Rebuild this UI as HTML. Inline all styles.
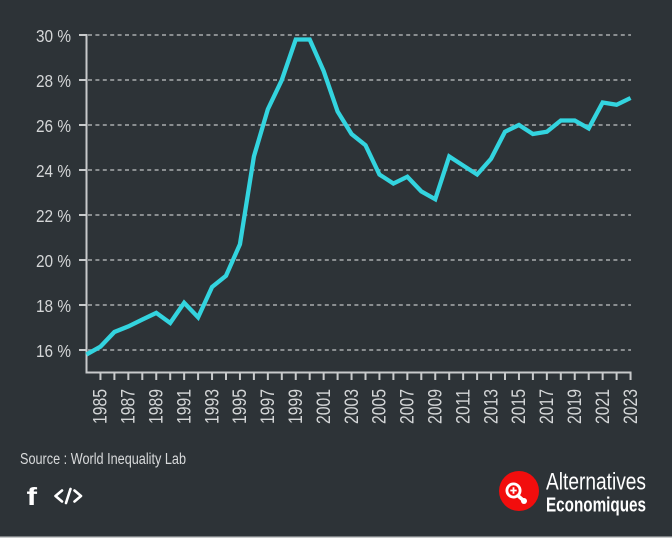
<!DOCTYPE html>
<html><head><meta charset="utf-8"><style>
html,body{margin:0;padding:0;background:#2d3337;}
svg{display:block;}
</style></head><body>
<svg width="672" height="538" viewBox="0 0 672 538" xmlns="http://www.w3.org/2000/svg" font-family="'Liberation Sans', sans-serif">
<rect x="0" y="0" width="672" height="538" fill="#2d3337"/>
<rect x="0" y="536.5" width="672" height="1.5" fill="#c9cbcc"/>
<g stroke="#a9acae" stroke-width="1.5" stroke-dasharray="4 3.4">
<line x1="88" y1="35" x2="631" y2="35"/>
<line x1="88" y1="80" x2="631" y2="80"/>
<line x1="88" y1="125" x2="631" y2="125"/>
<line x1="88" y1="170" x2="631" y2="170"/>
<line x1="88" y1="215" x2="631" y2="215"/>
<line x1="88" y1="260" x2="631" y2="260"/>
<line x1="88" y1="305" x2="631" y2="305"/>
<line x1="88" y1="350" x2="631" y2="350"/>
</g>
<g stroke="#c8cacb" stroke-width="2" fill="none">
<line x1="86.5" y1="34" x2="86.5" y2="373.5"/>
<line x1="79" y1="35" x2="86" y2="35"/>
<line x1="79" y1="80" x2="86" y2="80"/>
<line x1="79" y1="125" x2="86" y2="125"/>
<line x1="79" y1="170" x2="86" y2="170"/>
<line x1="79" y1="215" x2="86" y2="215"/>
<line x1="79" y1="260" x2="86" y2="260"/>
<line x1="79" y1="305" x2="86" y2="305"/>
<line x1="79" y1="350" x2="86" y2="350"/>
<line x1="85.5" y1="372.5" x2="631.5" y2="372.5"/>
<path d="M100.45 372.5V380 M114.4 372.5V380 M128.35 372.5V380 M142.3 372.5V380 M156.25 372.5V380 M170.2 372.5V380 M184.15 372.5V380 M198.1 372.5V380 M212.05 372.5V380 M226 372.5V380 M239.95 372.5V380 M253.9 372.5V380 M267.85 372.5V380 M281.8 372.5V380 M295.75 372.5V380 M309.7 372.5V380 M323.65 372.5V380 M337.6 372.5V380 M351.55 372.5V380 M365.5 372.5V380 M379.45 372.5V380 M393.4 372.5V380 M407.35 372.5V380 M421.3 372.5V380 M435.25 372.5V380 M449.2 372.5V380 M463.15 372.5V380 M477.1 372.5V380 M491.05 372.5V380 M505 372.5V380 M518.95 372.5V380 M532.9 372.5V380 M546.85 372.5V380 M560.8 372.5V380 M574.75 372.5V380 M588.7 372.5V380 M602.65 372.5V380 M616.6 372.5V380 M630.55 372.5V380"/>
</g>
<g fill="#d4d6d7" font-size="17.5" text-anchor="end">
<text x="71" y="42" textLength="35" lengthAdjust="spacingAndGlyphs">30 %</text>
<text x="71" y="87" textLength="35" lengthAdjust="spacingAndGlyphs">28 %</text>
<text x="71" y="132" textLength="35" lengthAdjust="spacingAndGlyphs">26 %</text>
<text x="71" y="177" textLength="35" lengthAdjust="spacingAndGlyphs">24 %</text>
<text x="71" y="222" textLength="35" lengthAdjust="spacingAndGlyphs">22 %</text>
<text x="71" y="267" textLength="35" lengthAdjust="spacingAndGlyphs">20 %</text>
<text x="71" y="312" textLength="35" lengthAdjust="spacingAndGlyphs">18 %</text>
<text x="71" y="357" textLength="35" lengthAdjust="spacingAndGlyphs">16 %</text>
</g>
<g fill="#d4d6d7" font-size="19" text-anchor="end">
<text transform="translate(106.7 389) rotate(-90)" textLength="35" lengthAdjust="spacingAndGlyphs">1985</text>
<text transform="translate(134.6 389) rotate(-90)" textLength="35" lengthAdjust="spacingAndGlyphs">1987</text>
<text transform="translate(162.5 389) rotate(-90)" textLength="35" lengthAdjust="spacingAndGlyphs">1989</text>
<text transform="translate(190.4 389) rotate(-90)" textLength="35" lengthAdjust="spacingAndGlyphs">1991</text>
<text transform="translate(218.3 389) rotate(-90)" textLength="35" lengthAdjust="spacingAndGlyphs">1993</text>
<text transform="translate(246.2 389) rotate(-90)" textLength="35" lengthAdjust="spacingAndGlyphs">1995</text>
<text transform="translate(274.1 389) rotate(-90)" textLength="35" lengthAdjust="spacingAndGlyphs">1997</text>
<text transform="translate(302.0 389) rotate(-90)" textLength="35" lengthAdjust="spacingAndGlyphs">1999</text>
<text transform="translate(329.9 389) rotate(-90)" textLength="35" lengthAdjust="spacingAndGlyphs">2001</text>
<text transform="translate(357.8 389) rotate(-90)" textLength="35" lengthAdjust="spacingAndGlyphs">2003</text>
<text transform="translate(385.7 389) rotate(-90)" textLength="35" lengthAdjust="spacingAndGlyphs">2005</text>
<text transform="translate(413.6 389) rotate(-90)" textLength="35" lengthAdjust="spacingAndGlyphs">2007</text>
<text transform="translate(441.5 389) rotate(-90)" textLength="35" lengthAdjust="spacingAndGlyphs">2009</text>
<text transform="translate(469.4 389) rotate(-90)" textLength="35" lengthAdjust="spacingAndGlyphs">2011</text>
<text transform="translate(497.3 389) rotate(-90)" textLength="35" lengthAdjust="spacingAndGlyphs">2013</text>
<text transform="translate(525.2 389) rotate(-90)" textLength="35" lengthAdjust="spacingAndGlyphs">2015</text>
<text transform="translate(553.1 389) rotate(-90)" textLength="35" lengthAdjust="spacingAndGlyphs">2017</text>
<text transform="translate(581.0 389) rotate(-90)" textLength="35" lengthAdjust="spacingAndGlyphs">2019</text>
<text transform="translate(608.9 389) rotate(-90)" textLength="35" lengthAdjust="spacingAndGlyphs">2021</text>
<text transform="translate(636.8 389) rotate(-90)" textLength="35" lengthAdjust="spacingAndGlyphs">2023</text>
</g>
<polyline fill="none" stroke="#33d4df" stroke-width="4.3" stroke-linejoin="miter" stroke-miterlimit="3" points="86.5,354.5 100.45,346.6 114.4,332 128.35,326.4 142.3,319.6 156.25,312.9 170.2,323 184.15,302.75 198.1,317.4 212.05,287 226,275.75 239.95,244.25 253.9,156.5 267.85,109.25 281.8,80 295.75,39.5 309.7,39.5 323.65,71 337.6,111.5 351.55,134 365.5,145.25 379.45,174.5 393.4,183.5 407.35,176.75 421.3,191.4 435.25,199.25 449.2,156.5 463.15,165.5 477.1,174.5 491.05,158.75 505,131.75 518.95,125 532.9,134 546.85,131.75 560.8,120.5 574.75,120.5 588.7,128.4 602.65,102.5 616.6,104.75 630.55,98"/>
<text x="20" y="464" fill="#d8dadb" font-size="15.5" textLength="166" lengthAdjust="spacingAndGlyphs">Source : World Inequality Lab</text>
<text x="26.5" y="505" fill="#ffffff" font-size="25" font-weight="bold" textLength="10.5" lengthAdjust="spacingAndGlyphs">f</text>
<g stroke="#ffffff" stroke-width="2.6" fill="none" stroke-linecap="round" stroke-linejoin="round">
<polyline points="62,490.5 55.5,496 62,501.5"/>
<line x1="70.5" y1="489" x2="66" y2="503"/>
<polyline points="74.5,490.5 81,496 74.5,501.5"/>
</g>
<circle cx="519" cy="491" r="20" fill="#f20d0d"/>
<line x1="516" y1="494" x2="523.5" y2="500.5" stroke="#ffffff" stroke-width="3.5" stroke-linecap="round"/>
<circle cx="524" cy="501" r="3" fill="#ffffff"/>
<circle cx="513.5" cy="490.5" r="6.6" fill="#f20d0d" stroke="#ffffff" stroke-width="2.8"/>
<path d="M513.5 487.3V493.7 M510.3 490.5H516.7" stroke="#ffffff" stroke-width="1.8"/>
<text x="546" y="489.5" fill="#ffffff" font-size="24" textLength="100" lengthAdjust="spacingAndGlyphs">Alternatives</text>
<text x="546" y="511.5" fill="#ffffff" font-size="20" font-weight="bold" textLength="100" lengthAdjust="spacingAndGlyphs">Economiques</text>
</svg>
</body></html>
